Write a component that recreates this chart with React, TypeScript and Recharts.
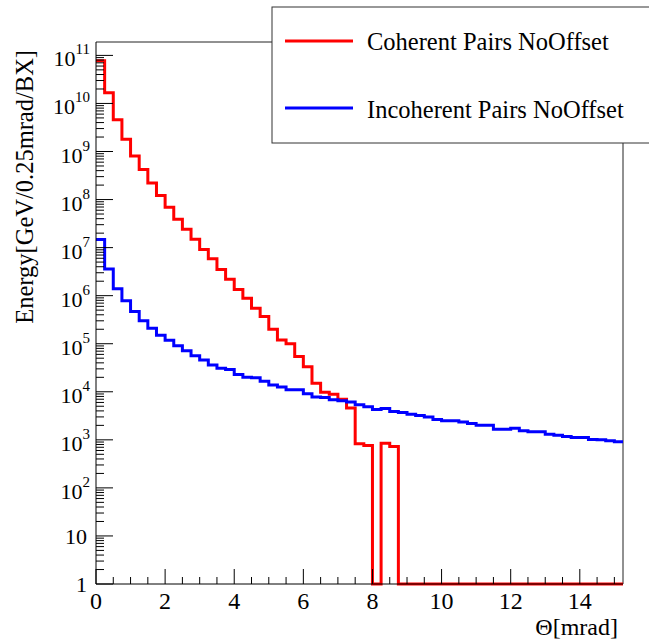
import React from "react";
import { LineChart, Line, XAxis, YAxis, ReferenceLine } from "recharts";

// 0.25 mrad bins from 0 to 15.25 mrad
const binWidth = 0.25;
const xMax = 15.25;
const yMin = 1;
const yMax = 1.9e11;

const coherentPairs = [
  7.7e10, 1.66e10, 4.6e9, 1.8e9, 8.1e8, 4.2e8, 2.2e8, 1.22e8, 6.9e7, 3.9e7,
  2.4e7, 1.5e7, 9.1e6, 5.9e6, 3.5e6, 2.2e6, 1.35e6, 8.8e5, 5.5e5, 3.7e5,
  2.0e5, 1.2e5, 1.0e5, 5.4e4, 3.3e4, 1.5e4, 9.8e3, 8.9e3, 7.0e3, 4.6e3,
  830, 760, 0, 850, 730, 0, 0, 0, 0, 0,
  0, 0, 0, 0, 0, 0, 0, 0, 0, 0,
  0, 0, 0, 0, 0, 0, 0, 0, 0, 0,
  0,
];

const incoherentPairs = [
  1.48e7, 3.6e6, 1.4e6, 7.8e5, 4.7e5, 3.0e5, 2.1e5, 1.5e5, 1.18e5, 9.1e4,
  7.1e4, 5.6e4, 4.6e4, 3.6e4, 3.1e4, 2.9e4, 2.3e4, 2.0e4, 1.95e4, 1.65e4,
  1.39e4, 1.26e4, 1.1e4, 1.1e4, 9.1e3, 7.8e3, 7.6e3, 6.8e3, 6.5e3, 6.1e3,
  5.4e3, 4.9e3, 4.3e3, 4.5e3, 3.9e3, 3.7e3, 3.4e3, 3.2e3, 3.0e3, 2.65e3,
  2.5e3, 2.5e3, 2.35e3, 2.2e3, 2.0e3, 2.0e3, 1.67e3, 1.67e3, 1.75e3, 1.55e3,
  1.47e3, 1.47e3, 1.3e3, 1.25e3, 1.17e3, 1.12e3, 1.12e3, 1.02e3, 1.0e3, 960,
  910,
];

const xTickLabels = [0, 2, 4, 6, 8, 10, 12, 14];
const xMinorStep = 0.5;
const yDecades = [0, 1, 2, 3, 4, 5, 6, 7, 8, 9, 10, 11];
const yMinorFactors = [1, 2, 3, 4, 5, 6, 7, 8, 9];

const seriesNames = ["Coherent Pairs NoOffset", "Incoherent Pairs NoOffset"];
const seriesColors = ["#ff0000", "#0000ff"];

// empty bins are drawn on the frame floor, like ROOT does
const floor = (v: number) => Math.max(v, yMin);

const nBins = coherentPairs.length;
const data = Array.from({ length: nBins + 1 }, (_, i) => {
  const b = Math.min(i, nBins - 1);
  return {
    x: i * binWidth,
    coherent: floor(coherentPairs[b]),
    incoherent: floor(incoherentPairs[b]),
  };
});

const xTicks = Array.from({ length: Math.floor(xMax / xMinorStep) + 1 }, (_, i) => i * xMinorStep);
const yTicks = yDecades
  .flatMap((d) => yMinorFactors.map((f) => f * Math.pow(10, d)))
  .filter((v) => v <= yMax);

const font = "'Liberation Serif', 'Times New Roman', serif";

const renderXTick = (props: any) => {
  const { x, y, payload } = props;
  const v: number = payload.value;
  const major = xTickLabels.includes(v);
  return (
    <g>
      <line x1={x} x2={x} y1={y} y2={y - (major ? 15 : 7)} stroke="#000" />
      {major && (
        <text x={x} y={y + 25} textAnchor="middle" fontSize={24} fontFamily={font} fill="#000">
          {v}
        </text>
      )}
    </g>
  );
};

const renderYTick = (props: any) => {
  const { x, y, payload } = props;
  const v: number = payload.value;
  const exp = Math.round(Math.log10(v));
  const major = Math.abs(v / Math.pow(10, exp) - 1) < 1e-6;
  let label = null;
  if (major) {
    if (exp === 0 || exp === 1) {
      label = (
        <text x={x - 9} y={y + 8} textAnchor="end" fontSize={22} fontFamily={font} fill="#000">
          {exp === 0 ? "1" : "10"}
        </text>
      );
    } else {
      label = (
        <text x={x - 6} y={y + 11} textAnchor="end" fontSize={22} fontFamily={font} fill="#000">
          10
          <tspan dy={-12} fontSize={15}>
            {exp}
          </tspan>
        </text>
      );
    }
  }
  return (
    <g>
      <line x1={x} x2={x + (major ? 17 : 8)} y1={y} y2={y} stroke="#000" />
      {label}
    </g>
  );
};

const App: React.FC = () => {
  return (
    <div style={styles.page}>
      <LineChart width={649} height={640} data={data} margin={{ top: 42, right: 26, bottom: 0, left: 0 }}>
        <XAxis
          dataKey="x"
          type="number"
          domain={[0, xMax]}
          ticks={xTicks}
          interval={0}
          tickSize={0}
          tickMargin={0}
          tickLine={false}
          tick={renderXTick}
          height={56}
          axisLine={{ stroke: "#000" }}
        />
        <YAxis
          type="number"
          scale="log"
          domain={[yMin, yMax]}
          ticks={yTicks}
          interval={0}
          tickSize={0}
          tickMargin={0}
          tickLine={false}
          tick={renderYTick}
          width={96}
          axisLine={{ stroke: "#000" }}
        />
        <ReferenceLine y={yMax} stroke="#222" />
        <ReferenceLine x={xMax} stroke="#222" />
        <Line
          type="stepAfter"
          dataKey="coherent"
          stroke={seriesColors[0]}
          strokeWidth={3}
          dot={false}
          isAnimationActive={false}
        />
        <Line
          type="stepAfter"
          dataKey="incoherent"
          stroke={seriesColors[1]}
          strokeWidth={3}
          dot={false}
          isAnimationActive={false}
        />
      </LineChart>

      {/* titles and legend box */}
      <svg width={649} height={640} style={styles.overlay}>
        <text
          transform="translate(33,50) rotate(-90)"
          textAnchor="end"
          fontSize={24.5}
          fontFamily={font}
          fill="#000"
        >
          Energy[GeV/0.25mrad/BX]
        </text>
        <text x={618} y={635} textAnchor="end" fontSize={24} fontFamily={font} fill="#000">
          Θ[mrad]
        </text>
        <rect x={272} y={7} width={420} height={136} fill="#fff" stroke="#333" />
        {seriesNames.map((name, i) => (
          <g key={name}>
            <line x1={285} x2={353} y1={41 + i * 67} y2={41 + i * 67} stroke={seriesColors[i]} strokeWidth={3} />
            <text x={367} y={50 + i * 68} fontSize={24.5} fontFamily={font} fill="#000">
              {name}
            </text>
          </g>
        ))}
      </svg>
    </div>
  );
};

const styles: { [key: string]: React.CSSProperties } = {
  page: {
    position: "absolute",
    left: 0,
    top: 0,
    width: 649,
    height: 640,
    background: "#fff",
    overflow: "hidden",
  },
  overlay: {
    position: "absolute",
    left: 0,
    top: 0,
    pointerEvents: "none",
  },
};

export default App;
